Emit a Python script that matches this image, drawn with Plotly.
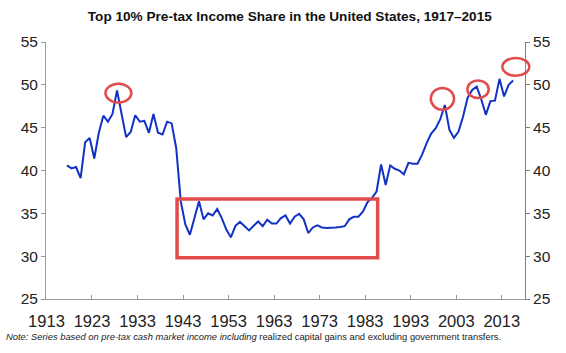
import plotly.graph_objects as go

years = list(range(1917, 2016))
top10_share = [
    40.6, 40.25, 40.4, 39.1, 43.3, 43.8, 41.4, 44.4, 46.4, 45.7,   # 1917-1926
    46.6, 49.35, 46.6, 43.9, 44.5, 46.45, 45.7, 45.8, 44.4, 46.6,  # 1927-1936
    44.4, 44.2, 45.7, 45.5, 42.6, 36.4, 33.7, 32.5, 34.45, 36.4,   # 1937-1946
    34.3, 35.0, 34.75, 35.5, 34.45, 33.1, 32.2, 33.55, 34.0, 33.5, # 1947-1956
    33.0, 33.55, 34.05, 33.5, 34.25, 33.8, 33.8, 34.45, 34.75, 33.8, # 1957-1966
    34.6, 34.95, 34.3, 32.7, 33.35, 33.6, 33.35, 33.3, 33.3, 33.35, # 1967-1976
    33.4, 33.5, 34.3, 34.6, 34.6, 35.2, 36.3, 36.8, 37.55, 40.7,   # 1977-1986
    38.3, 40.6, 40.2, 40.0, 39.55, 40.9, 40.8, 40.8, 41.85, 43.2,  # 1987-1996
    44.3, 44.95, 46.0, 47.65, 44.75, 43.8, 44.55, 46.3, 48.5, 49.4, # 1997-2006
    49.8, 48.3, 46.5, 48.1, 48.15, 50.7, 48.65, 50.0, 50.5,        # 2007-2015
]
tick_labels = ["1913", "1923", "1933", "1943", "1953", "1963", "1973", "1983", "1993", "2003", "2013"]
y_ticks = [25, 30, 35, 40, 45, 50, 55]

FONT = "Liberation Sans, Arial, sans-serif"
AXIS_GRAY = "#9a9a9a"
RED = "#E24B4B"

fig = go.Figure()
fig.add_trace(go.Scatter(x=years, y=top10_share, mode="lines",
                         line=dict(color="#1232C4", width=2),
                         showlegend=False, hoverinfo="skip"))
# invisible helper trace so the right-hand axis is drawn
fig.add_trace(go.Scatter(x=years[:1], y=top10_share[:1], mode="lines", yaxis="y2",
                         line=dict(width=0), opacity=0, showlegend=False, hoverinfo="skip"))

tickvals = [int(t) - 0.5 for t in tick_labels]

fig.update_layout(
    width=566, height=353,
    margin=dict(l=46, r=41, t=42, b=54),
    paper_bgcolor="white", plot_bgcolor="white",
    title=dict(text="<b>Top 10% Pre-tax Income Share in the United States, 1917\u20132015</b>",
               font=dict(family=FONT, size=13.6, color="#111"),
               xref="container", yref="container", x=0.512, y=1 - 16 / 353,
               xanchor="center", yanchor="middle"),
    xaxis=dict(range=[1912.4, 2017.6], tickmode="array", tickvals=tickvals, ticktext=tick_labels,
               showgrid=False, zeroline=False, showline=True, linecolor=AXIS_GRAY, linewidth=1,
               ticks="inside", ticklen=4, tickcolor=AXIS_GRAY, ticklabelstandoff=7,
               tickfont=dict(family=FONT, size=16.5, color="#222")),
    yaxis=dict(range=[25, 55], tickvals=y_ticks, showgrid=False, zeroline=False,
               showline=True, linecolor=AXIS_GRAY, linewidth=1,
               ticks="outside", ticklen=4, tickcolor=AXIS_GRAY,
               tickfont=dict(family=FONT, size=15.5, color="#222")),
    yaxis2=dict(range=[25, 55], tickvals=y_ticks, overlaying="y", side="right",
                showgrid=False, zeroline=False, showline=True, linecolor="#808080", linewidth=1,
                ticks="outside", ticklen=4, tickcolor="#808080",
                tickfont=dict(family=FONT, size=15.5, color="#222")),
)

# highlight annotations (paper coordinates)
ellipses = [
    (0.1241, 0.765, 0.1783, 0.8377),
    (0.8033, 0.7366, 0.8519, 0.821),
    (0.8797, 0.7821, 0.9243, 0.8506),
    (0.9527, 0.8689, 1.009, 0.9377),
]
for x0, y0, x1, y1 in ellipses:
    fig.add_shape(type="circle", xref="paper", yref="paper", x0=x0, y0=y0, x1=x1, y1=y1,
                  line=dict(color=RED, width=2.5), layer="above")
fig.add_shape(type="rect", xref="paper", yref="paper", x0=0.2736, y0=0.1607, x1=0.6924, y1=0.3891,
              line=dict(color=RED, width=3.5), layer="above")

fig.add_annotation(
    text="<i>Note: Series based on pre-tax cash market income including</i> realized capital gains and excluding government transfers.",
    xref="paper", yref="paper", x=(4 - 46) / 479, y=(299 - 336) / 257,
    xanchor="left", yanchor="middle", showarrow=False,
    font=dict(family=FONT, size=9.4, color="#222"))

fig.write_html("out.html")
